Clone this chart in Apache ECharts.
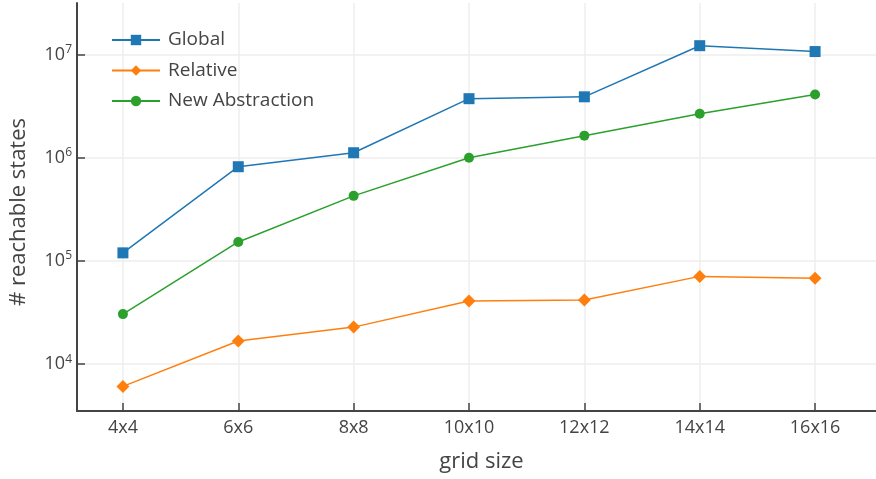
<!DOCTYPE html>
<html>
<head>
<meta charset="utf-8">
<script src="https://cdn.jsdelivr.net/npm/echarts@6/dist/echarts.min.js"></script>
<style>
html,body{margin:0;padding:0;background:#fff;}
#chart{width:876px;height:479px;}
</style>
</head>
<body>
<div id="chart"></div>
<script>
var categories = ['4x4','6x6','8x8','10x10','12x12','14x14','16x16'];
var globalValues = [120000, 820000, 1120000, 3740000, 3900000, 12200000, 10700000];
var relativeValues = [6100, 16800, 22900, 41000, 42000, 71000, 68000];
var newAbstractionValues = [30600, 153000, 428000, 1000000, 1640000, 2670000, 4100000];
var yTickValues = [10000, 100000, 1000000, 10000000];
var yTickExponents = ['4','5','6','7'];

var FONT = '"Open Sans", "Noto Sans", sans-serif';
var TXT = '#444';

function pairs(vals){ return vals.map(function(v,i){ return [i, v]; }); }
var xTickValues = categories.map(function(c,i){ return i; });

var chart = echarts.init(document.getElementById('chart'), null, {renderer:'canvas'});
chart.setOption({
  animation:false,
  backgroundColor:'#fff',
  textStyle:{fontFamily:FONT},
  grid:{left:76, right:0, top:3, bottom:68, containLabel:false},
  legend:{
    orient:'vertical', left:111, top:30.5, padding:0,
    itemWidth:48, itemHeight:13, itemGap:11.5,
    textStyle:{fontFamily:FONT, fontSize:19, color:TXT, padding:[0,0,0,3]},
    data:['Global','Relative','New Abstraction']
  },
  xAxis:{
    type:'value', min:-0.398, max:6.528,
    name:'grid size', nameLocation:'middle', nameGap:40,
    nameTextStyle:{fontFamily:FONT, fontSize:22, color:TXT, padding:[0,0,0,10]},
    axisLine:{show:true, onZero:false, lineStyle:{color:TXT, width:2}},
    axisTick:{show:true, inside:true, length:8, lineStyle:{color:TXT, width:1.5}, customValues:xTickValues},
    axisLabel:{fontFamily:FONT, fontSize:18, color:TXT, margin:8, customValues:xTickValues,
      formatter:function(v){ return categories[Math.round(v)]; }},
    splitLine:{show:true, lineStyle:{color:'#eeeeee', width:1.5}}
  },
  yAxis:{
    type:'log', logBase:10, min:3524, max:31620000,
    name:'# reachable states', nameLocation:'middle', nameGap:47, nameRotate:90,
    nameTextStyle:{fontFamily:FONT, fontSize:22, color:TXT, padding:[0,10,0,0]},
    axisLine:{show:true, onZero:false, lineStyle:{color:TXT, width:2}},
    axisTick:{show:true, inside:true, length:8, lineStyle:{color:TXT, width:1.5}, customValues:yTickValues},
    axisLabel:{fontFamily:FONT, fontSize:18, color:TXT, margin:5, customValues:yTickValues,
      formatter:function(v){
        var i = yTickValues.indexOf(v);
        var e = i>=0 ? yTickExponents[i] : String(Math.round(Math.log10(v)));
        return '10{sup|' + e + '}';
      },
      rich:{sup:{fontFamily:FONT, fontSize:12, color:TXT, verticalAlign:'top', padding:[0,0,10,0]}}
    },
    splitLine:{show:true, lineStyle:{color:'#eeeeee', width:1.5}}
  },
  series:[
    {name:'Global', type:'line', data:pairs(globalValues), symbol:'rect', symbolSize:11,
     itemStyle:{color:'#1f77b4'}, lineStyle:{color:'#1f77b4', width:1.5}},
    {name:'Relative', type:'line', data:pairs(relativeValues), symbol:'diamond', symbolSize:13,
     itemStyle:{color:'#ff7f0e'}, lineStyle:{color:'#ff7f0e', width:1.5}},
    {name:'New Abstraction', type:'line', data:pairs(newAbstractionValues), symbol:'circle', symbolSize:10,
     itemStyle:{color:'#2ca02c'}, lineStyle:{color:'#2ca02c', width:1.5}}
  ]
});
</script>
</body>
</html>
